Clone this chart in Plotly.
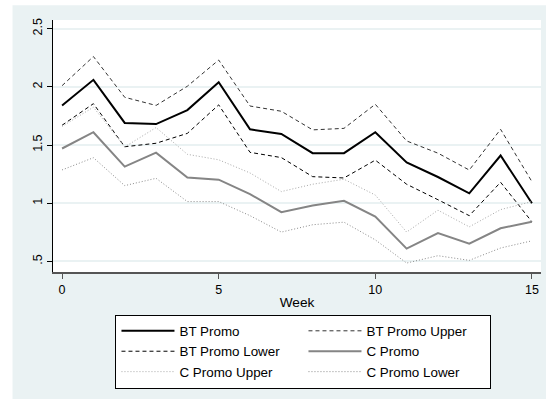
import plotly.graph_objects as go

# Weekly estimates with confidence bands
weeks = list(range(16))
bt_promo = [1.84, 2.06, 1.69, 1.68, 1.80, 2.04, 1.635, 1.595, 1.43, 1.43, 1.61, 1.35, 1.225, 1.085, 1.41, 1.00]
bt_upper = [2.01, 2.26, 1.91, 1.84, 2.005, 2.23, 1.835, 1.79, 1.63, 1.643, 1.85, 1.535, 1.43, 1.285, 1.635, 1.185]
bt_lower = [1.67, 1.855, 1.485, 1.515, 1.60, 1.845, 1.437, 1.392, 1.228, 1.217, 1.37, 1.163, 1.03, 0.893, 1.18, 0.84]
c_promo = [1.47, 1.61, 1.314, 1.434, 1.22, 1.202, 1.078, 0.923, 0.98, 1.02, 0.886, 0.61, 0.744, 0.652, 0.785, 0.84]
c_upper = [1.66, 1.825, 1.483, 1.65, 1.42, 1.373, 1.26, 1.10, 1.163, 1.206, 1.07, 0.752, 0.94, 0.797, 0.945, 1.014]
c_lower = [1.286, 1.391, 1.151, 1.214, 1.014, 1.014, 0.893, 0.752, 0.815, 0.837, 0.685, 0.486, 0.549, 0.509, 0.615, 0.677]

x_ticks = [0, 5, 10, 15]
y_ticks = [0.5, 1, 1.5, 2, 2.5]
y_ticktext = [".5", "1", "1.5", "2", "2.5"]

FONT = "Liberation Sans, Arial, Helvetica, sans-serif"
BG = "#EAF2F3"

# figure geometry (px)
FIG_W, FIG_H = 546, 399
M_L, M_R, M_T, M_B = 52.5, 5.3, 19.7, 126.7
PW = FIG_W - M_L - M_R
PH = FIG_H - M_T - M_B


def px_x(p):
    return (p - M_L) / PW


def px_y(p):
    return (FIG_H - M_B - p) / PH


series = [
    ("BT Promo", bt_promo, dict(color="black", width=2, dash="solid")),
    ("BT Promo Upper", bt_upper, dict(color="#333333", width=1, dash="4px,3px")),
    ("BT Promo Lower", bt_lower, dict(color="black", width=1, dash="4px,3px")),
    ("C Promo", c_promo, dict(color="#858585", width=2, dash="solid")),
    ("C Promo Upper", c_upper, dict(color="#a8a8a8", width=1, dash="1px,2px")),
    ("C Promo Lower", c_lower, dict(color="#8a8a8a", width=1, dash="1px,2px")),
]

fig = go.Figure()
for name, vals, line in series:
    fig.add_trace(go.Scatter(x=weeks, y=vals, mode="lines", name=name, line=line))

fig.update_layout(
    width=FIG_W,
    height=FIG_H,
    margin=dict(l=M_L, r=M_R, t=M_T, b=M_B, pad=0),
    paper_bgcolor=BG,
    plot_bgcolor="white",
    font=dict(family=FONT, size=12.5, color="black"),
    showlegend=True,
    legend=dict(
        orientation="h",
        x=px_x(115),
        y=px_y(315),
        xanchor="left",
        yanchor="top",
        bgcolor="white",
        bordercolor="black",
        borderwidth=1,
        font=dict(family=FONT, size=13.4, color="black"),
        itemwidth=53,
        entrywidth=119,
        tracegroupgap=0,
    ),
    xaxis=dict(
        range=[-0.29, 15.29],
        tickvals=x_ticks,
        ticks="outside",
        ticklen=5,
        tickcolor="#555555",
        showline=True,
        linecolor="#555555",
        linewidth=1.6,
        showgrid=False,
        zeroline=False,
        tickfont=dict(size=12.5),
        title=dict(text="Week", font=dict(size=13.7), standoff=2),
    ),
    yaxis=dict(
        range=[0.409, 2.574],
        tickvals=y_ticks,
        ticktext=y_ticktext,
        tickangle=-90,
        ticks="outside",
        ticklen=5,
        tickcolor="black",
        showline=True,
        linecolor="black",
        linewidth=1,
        showgrid=True,
        gridcolor=BG,
        gridwidth=1.5,
        zeroline=False,
        tickfont=dict(size=12.5),
    ),
    shapes=[
        # white outer border strips (top and left) around the graph region
        dict(type="rect", xref="paper", yref="paper", layer="below",
             x0=px_x(0), x1=px_x(FIG_W + 2), y0=px_y(5), y1=px_y(-2),
             fillcolor="white", line=dict(width=0)),
        dict(type="rect", xref="paper", yref="paper", layer="below",
             x0=px_x(-2), x1=px_x(12), y0=px_y(FIG_H + 2), y1=px_y(-2),
             fillcolor="white", line=dict(width=0)),
    ],
)

fig.write_html("out.html")
